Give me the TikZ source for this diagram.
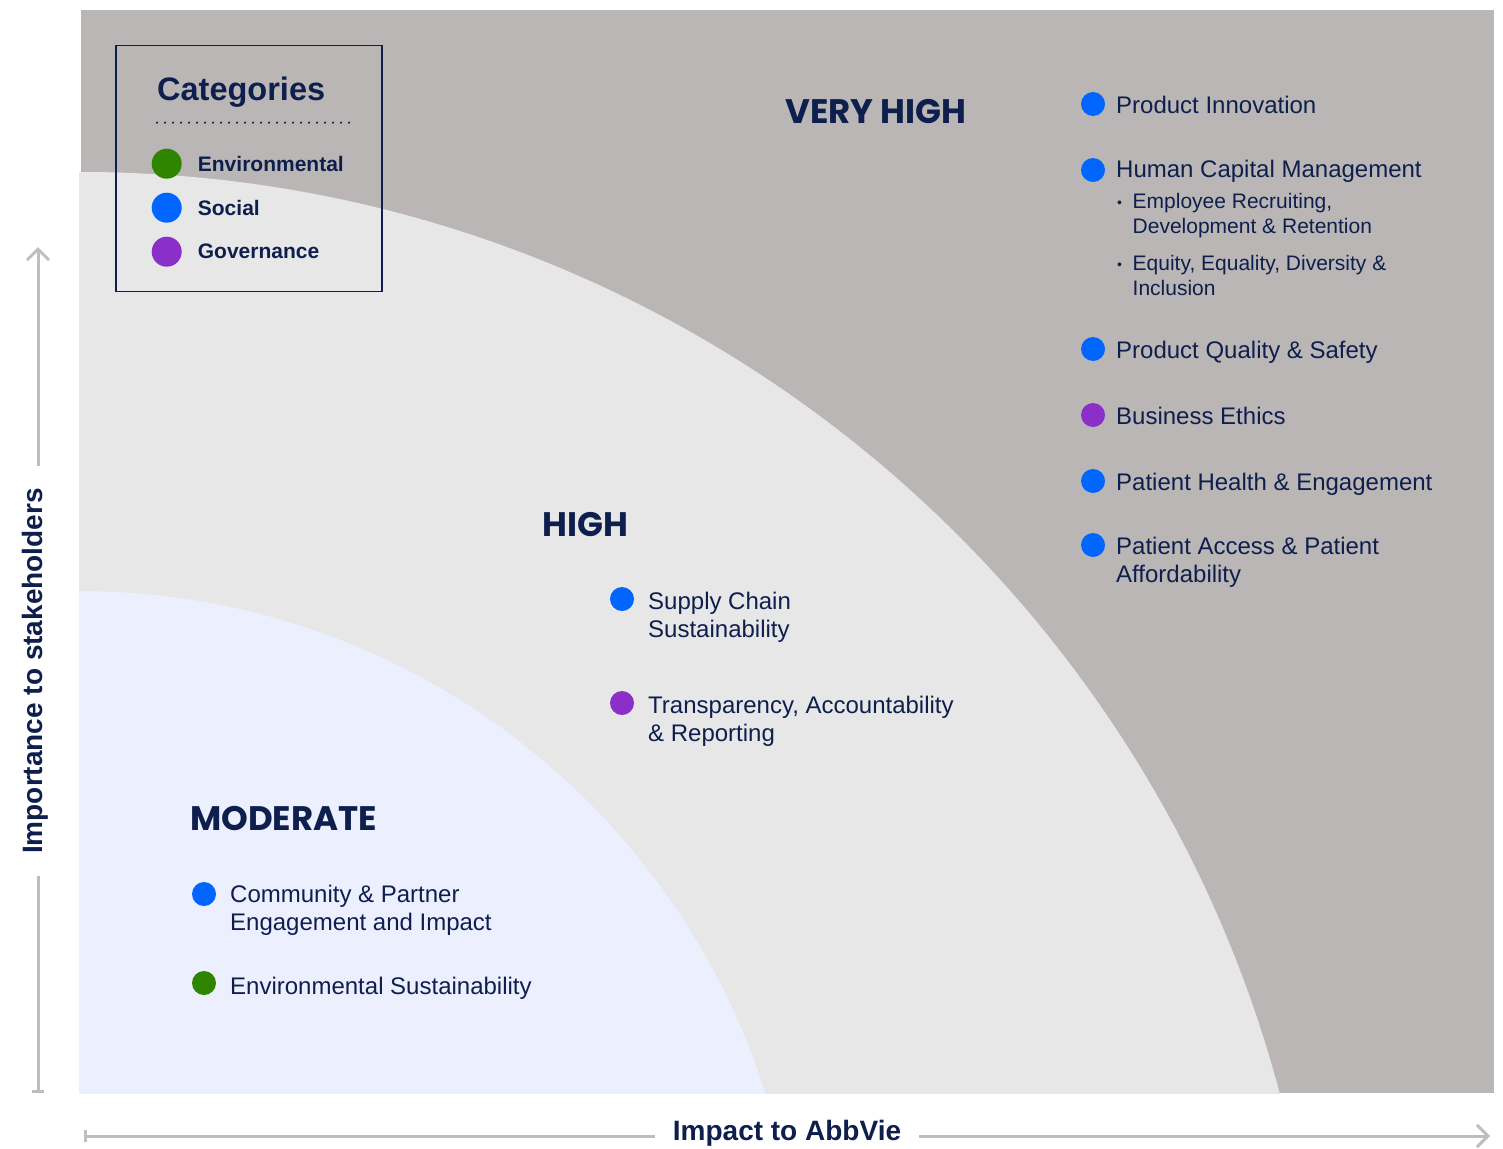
\documentclass[tikz,border=0pt]{standalone}
\usepackage{fontspec}
\setmainfont{Liberation Sans}
\newfontfamily\headfont{Poppins}
\usetikzlibrary{arrows.meta,calc}

\definecolor{navy}{HTML}{0E1F4E}
\definecolor{envgreen}{HTML}{2F8500}
\definecolor{socblue}{HTML}{0066FF}
\definecolor{govpurple}{HTML}{8A30C9}
\definecolor{vhgray}{HTML}{BAB6B5}
\definecolor{hgray}{HTML}{E7E7E7}
\definecolor{modlav}{HTML}{ECEFFD}
\definecolor{axisgray}{HTML}{C1BDBC}

\begin{document}
\begin{tikzpicture}[x=1pt,y=-1pt,
    dot/.style={circle,inner sep=0pt,minimum size=24pt},
    legdot/.style={circle,inner sep=0pt,minimum size=30pt},
    item/.style={anchor=base west,inner sep=0pt,align=left,text=navy,
        font=\fontsize{24}{28.5}\selectfont},
    subitem/.style={anchor=base west,inner sep=0pt,align=left,text=navy,
        font=\fontsize{21}{25.5}\selectfont},
    leglabel/.style={anchor=base west,inner sep=0pt,text=navy,
        font=\fontsize{21}{26}\selectfont\bfseries},
    zonelabel/.style={anchor=base west,inner sep=0pt,text=navy,
        font=\fontsize{34}{38}\headfont\bfseries},
    axis/.style={axisgray,line width=3pt},
    axislabel/.style={text=navy,font=\fontsize{28}{32}\selectfont\bfseries}]

    \useasboundingbox (0,0) rectangle (1503,1148);

    % zones
    \fill[vhgray] (81,10) rectangle (1494,1093);
    \begin{scope}
        \clip (79,10) rectangle (1494,1093);
        \fill[hgray] (81,1412) circle[radius=1240pt];
        \fill[modlav] (79,1311) circle[radius=720pt];
    \end{scope}

    % legend
    \node[draw=navy,line width=1.5pt,anchor=north west,inner sep=0pt,
        minimum width=266pt,minimum height=246pt] (legend) at (115.3,44.7) {};
    \node[anchor=base west,inner sep=0pt,text=navy,
        font=\fontsize{32.5}{36}\selectfont\bfseries] (cattitle) at (157,100) {Categories};
    \draw[navy,line width=2.4pt,line cap=round,dash pattern=on 0pt off 8pt]
        (157,122.7) -- (351,122.7);
    \node[legdot,fill=envgreen] (denv) at (166.7,163.7) {};
    \node[leglabel] (lenv) at (197.7,171) {Environmental};
    \node[legdot,fill=socblue] (dsoc) at (166.7,207.7) {};
    \node[leglabel] (lsoc) at (197.7,215) {Social};
    \node[legdot,fill=govpurple] (dgov) at (166.7,251.7) {};
    \node[leglabel] (lgov) at (197.7,258.3) {Governance};

    % very high (base of a wrapped node is its last line)
    \node[zonelabel] (veryhigh) at (785,123) {VERY HIGH};
    \node[dot,fill=socblue] (dpinno) at (1093,104) {};
    \node[item] (pinno) at (1116,113) {Product Innovation};
    \node[dot,fill=socblue] (dhcm) at (1093,170) {};
    \node[item] (hcm) at (1116,177.5) {Human Capital Management};
    \node[subitem] (bemp) at (1117,207) {\fontsize{14}{16}\selectfont •};
    \node[subitem] (emp) at (1132.5,233.5) {Employee Recruiting,\\Development \& Retention};
    \node[subitem] (bequ) at (1117,269) {\fontsize{14}{16}\selectfont •};
    \node[subitem] (equ) at (1132.5,295.5) {Equity, Equality, Diversity \&\\Inclusion};
    \node[dot,fill=socblue] (dpqs) at (1093,349) {};
    \node[item] (pqs) at (1116,358) {Product Quality \& Safety};
    \node[dot,fill=govpurple] (dbe) at (1093,415) {};
    \node[item] (be) at (1116,424) {Business Ethics};
    \node[dot,fill=socblue] (dphe) at (1093,481) {};
    \node[item] (phe) at (1116,490) {Patient Health \& Engagement};
    \node[dot,fill=socblue] (dpap) at (1093,545) {};
    \node[item] (pap) at (1116,582.5) {Patient Access \& Patient\\Affordability};

    % high
    \node[zonelabel] (high) at (542,536) {HIGH};
    \node[dot,fill=socblue] (dscs) at (622,599) {};
    \node[item] (scs) at (648,637.5) {Supply Chain\\Sustainability};
    \node[dot,fill=govpurple] (dtar) at (622,703) {};
    \node[item] (tar) at (648,741.5) {Transparency, Accountability\\\& Reporting};

    % moderate
    \node[zonelabel] (moderate) at (190,830) {MODERATE};
    \node[dot,fill=socblue] (dcpe) at (204,894) {};
    \node[item] (cpe) at (230,930.5) {Community \& Partner\\Engagement and Impact};
    \node[dot,fill=envgreen] (des) at (204,983) {};
    \node[item] (es) at (230,994) {Environmental Sustainability};

    % axes
    \node[axislabel,rotate=90,inner xsep=22pt] (ylab) at (35,671) {Importance to stakeholders};
    \coordinate (ybot) at (38,1093);
    \coordinate (ytop) at (38,247);
    \draw[axis,{Bar[width=12pt,length=3pt]}-] (ybot) -- (ylab.west -| ybot);
    \draw[axis,-{Straight Barb[length=11pt,width=22pt]}] (ylab.east -| ytop) -- (ytop);

    \node[axislabel,inner xsep=18pt] (xlab) at (787,1133) {Impact to AbbVie};
    \coordinate (xleft) at (84,1136);
    \coordinate (xright) at (1490,1136);
    \draw[axis,{Bar[width=12pt,length=3pt]}-] (xleft) -- (xlab.west |- xleft);
    \draw[axis,-{Straight Barb[length=11pt,width=22pt]}] (xlab.east |- xright) -- (xright);

\end{tikzpicture}
\end{document}
